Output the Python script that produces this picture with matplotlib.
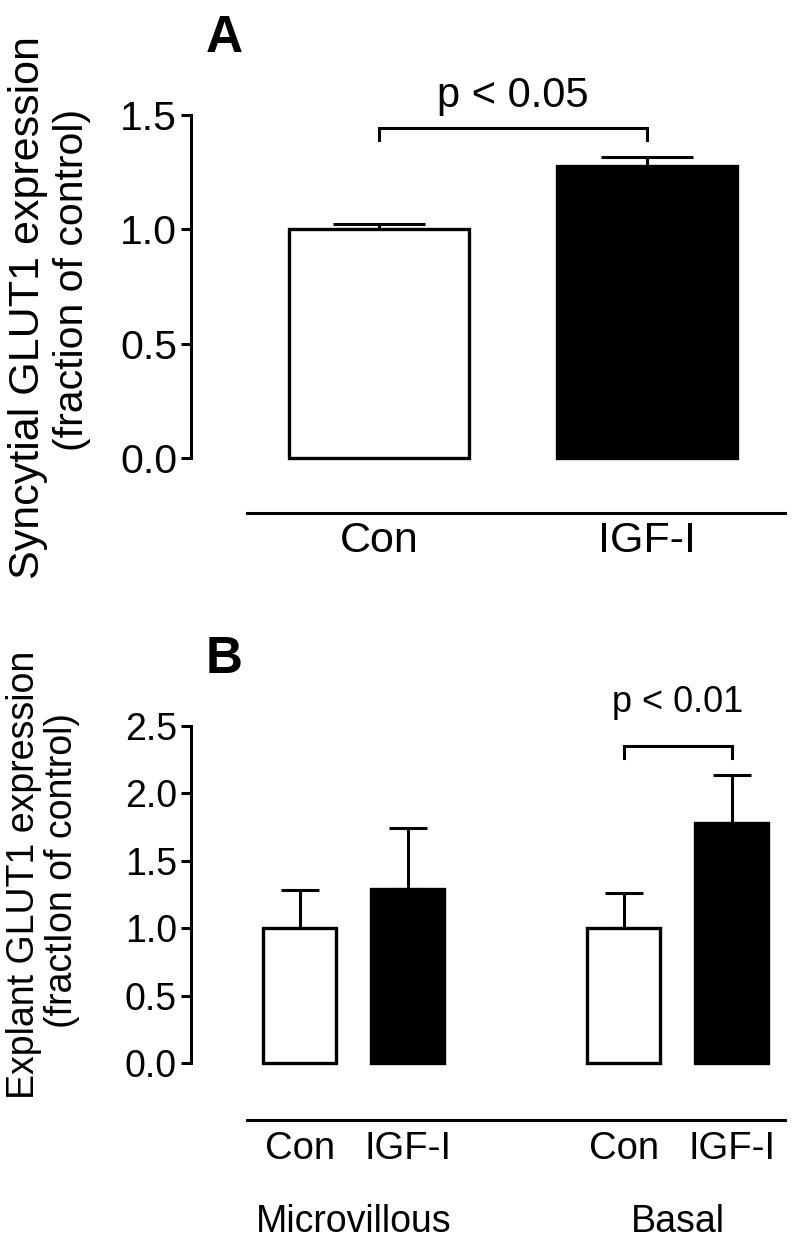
import numpy as np
import matplotlib
matplotlib.use("Agg")
import matplotlib.pyplot as plt

plt.rcParams['font.family'] = ['Liberation Sans', 'DejaVu Sans']

# panel A: syncytial GLUT1 expression
a_groups = ["Con", "IGF-I"]
a_means = [1.0, 1.275]
a_sem = [0.025, 0.04]
a_colors = ["white", "black"]
a_yticks = [0.0, 0.5, 1.0, 1.5]

# panel B: explant GLUT1 expression, two membranes
b_labels = ["Con", "IGF-I", "Con", "IGF-I"]
b_membranes = ["Microvillous", "Basal"]
b_means = [1.0, 1.29, 1.0, 1.78]
b_sem = [0.28, 0.45, 0.26, 0.35]
b_colors = ["white", "black", "white", "black"]
b_yticks = [0.0, 0.5, 1.0, 1.5, 2.0, 2.5]

W, H = 795, 1241
fig = plt.figure(figsize=(W / 100, H / 100), dpi=100)


def px_rect(left, top, right, bottom):
    return [left / W, 1 - bottom / H, (right - left) / W, (bottom - top) / H]


def style_axis(ax, ytop, x0, fs_y, fs_x):
    for s in ["top", "right"]:
        ax.spines[s].set_visible(False)
    ax.spines["left"].set_bounds(0, ytop)
    ax.spines["left"].set_linewidth(2.2)
    ax.spines["bottom"].set_linewidth(2.2)
    ax.spines["bottom"].set_bounds(x0, ax.get_xlim()[1])
    ax.tick_params(axis="y", direction="out", length=7, width=2.2, pad=3, labelsize=fs_y)
    ax.tick_params(axis="x", length=0, pad=6, labelsize=fs_x)


def bracket(ax, x1, x2, y, drop, text, gap, fs):
    ax.plot([x1, x1, x2, x2], [y - drop, y, y, y - drop], color="black",
            lw=2.2, clip_on=False, solid_joinstyle="miter")
    ax.text((x1 + x2) / 2, y + gap, text, ha="center", va="baseline",
            fontsize=fs, clip_on=False)


def px_text(x, y, s, **kw):
    fig.text(x / W, 1 - y / H, s, **kw)


# ---- panel A ----
axA = fig.add_axes(px_rect(191, 115, 785, 513))
xa = np.arange(len(a_groups))
axA.bar(xa, a_means, width=0.672, color=a_colors, edgecolor="black",
        linewidth=2.4, zorder=3)
axA.errorbar(xa, a_means, yerr=[np.zeros(len(xa)), a_sem], fmt="none",
             ecolor="black", elinewidth=2.2, capsize=33, capthick=2.2, zorder=2)
axA.set_xlim(-0.701, 1.515)
axA.set_ylim(-0.2405, 1.5)
axA.set_yticks(a_yticks)
axA.set_yticklabels([f"{t:.1f}" for t in a_yticks])
axA.set_xticks(xa)
axA.set_xticklabels(a_groups)
style_axis(axA, 1.5, -0.4925, 29.5, 31)
topA = max(m + e for m, e in zip(a_means, a_sem))
bracket(axA, xa[0], xa[1], topA + 0.13, 0.053, "p < 0.05", 0.092, 30)

px_text(28, 308, "Syncytial GLUT1 expression", rotation=90, ha="center",
        va="center", fontsize=31)
px_text(72, 280, "(fraction of control)", rotation=90, ha="center",
        va="center", fontsize=29.5)
px_text(206, 52, "A", fontsize=37, fontweight="bold", va="baseline")

# ---- panel B ----
axB = fig.add_axes(px_rect(191, 725.5, 785, 1120))
xb = np.array([0, 1, 3, 4])
axB.bar(xb, b_means, width=0.676, color=b_colors, edgecolor="black",
        linewidth=2.4, zorder=3)
axB.errorbar(xb, b_means, yerr=[np.zeros(len(xb)), b_sem], fmt="none",
             ecolor="black", elinewidth=2.2, capsize=13.7, capthick=2.2, zorder=2)
axB.set_xlim(-1.009, 4.491)
axB.set_ylim(-0.422, 2.5)
axB.set_yticks(b_yticks)
axB.set_yticklabels([f"{t:.1f}" for t in b_yticks])
axB.set_xticks(xb)
axB.set_xticklabels(b_labels)
style_axis(axB, 2.5, -0.491, 27, 27.5)
axB.tick_params(axis="x", pad=8)
for i, name in enumerate(b_membranes):
    axB.text(xb[2 * i:2 * i + 2].mean(), -1.252, name, ha="center",
             va="baseline", fontsize=27, clip_on=False)
topB = b_means[3] + b_sem[3]
bracket(axB, xb[2], xb[3], topB + 0.22, 0.09, "p < 0.01", 0.25, 26)

px_text(24, 875, "Explant GLUT1 expression", rotation=90, ha="center",
        va="center", fontsize=27)
px_text(62, 870, "(fractIon of control)", rotation=90, ha="center",
        va="center", fontsize=27)
px_text(206, 673, "B", fontsize=37, fontweight="bold", va="baseline")

fig.savefig("out.png", dpi=100)
